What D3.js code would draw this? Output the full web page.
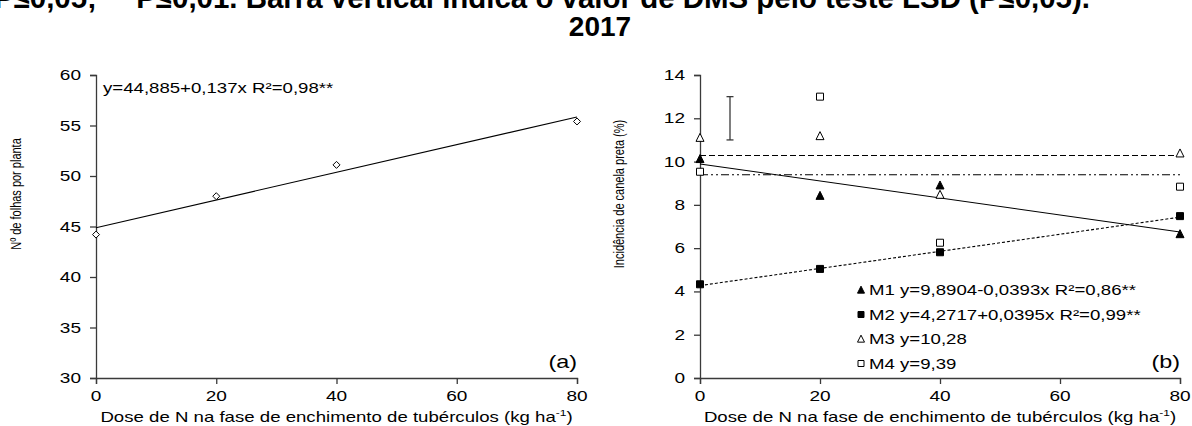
<!DOCTYPE html>
<html><head><meta charset="utf-8">
<script src="https://cdn.jsdelivr.net/npm/d3@7"></script>
<style>html,body{margin:0;padding:0;background:#fff;overflow:hidden}svg{display:block;font-family:"Liberation Sans",Arial,sans-serif}</style>
</head><body>
<script>
// ---------- data ----------
const doses = [0, 20, 40, 80];
const folhas = [44.2, 48.0, 51.1, 55.4];          // panel (a)
const m1 = [10.12, 8.42, 8.90, 6.65];             // filled triangle
const m2 = [4.33, 5.04, 5.81, 7.48];              // filled square
const m3 = [11.10, 11.18, 8.47, 10.38];           // open triangle
const m4 = [9.53, 13.00, 6.25, 8.84];             // open square
const fitA = [44.885, 0.137];
const fitM1 = [9.8904, -0.0393];
const fitM2 = [4.2717, 0.0395];
const meanM3 = 10.28;
const meanM4 = 9.39;
const dmsX = 5, dmsRange = [11, 13];
const xTicks = [0, 20, 40, 60, 80];
const yTicksA = [30, 35, 40, 45, 50, 55, 60];
const yTicksB = [0, 2, 4, 6, 8, 10, 12, 14];
const eqA = "y=44,885+0,137x R²=0,98**";
const legendLabels = ["M1 y=9,8904-0,0393x R²=0,86**", "M2 y=4,2717+0,0395x R²=0,99**", "M3 y=10,28", "M4 y=9,39"];
const titleLine1 = "P≤0,05; ** P≤0,01. Barra vertical indica o valor de DMS pelo teste LSD (P≤0,05).";
const titleLine2 = "2017";
const xTitle = "Dose de N na fase de enchimento de tubérculos (kg ha";
const yTitleA = "Nº de folhas por planta";
const yTitleB = "Incidência de canela preta (%)";

// ---------- setup ----------
const W = 1192, H = 426;
const svg = d3.select("body").append("svg").attr("width", W).attr("height", H);
const AX = "#3a3a3a";
const SX = 1.33;

function txt(g, str, x, y, o = {}) {
  const size = o.size || 14, sx = o.sx || SX, rot = o.rotate || 0;
  const t = g.append("text")
    .attr("transform", `translate(${x},${y}) scale(${sx},1)` + (rot ? ` rotate(${rot})` : ""))
    .attr("font-size", size)
    .attr("font-weight", o.weight || "normal")
    .attr("text-anchor", o.anchor || "start")
    .attr("fill", "#000")
    .text(str);
  if (o.dy) t.attr("dy", o.dy);
  return t;
}

const tri = s => `M0,${-s*0.55}L${s/2},${s*0.45}L${-s/2},${s*0.45}Z`;
const sq = s => `M${-s/2},${-s/2}h${s}v${s}h${-s}Z`;
const dia = s => `M0,${-s/2}L${s/2},0L0,${s/2}L${-s/2},0Z`;

// ---------- titles ----------
svg.append("text").attr("x", -6).attr("y", 8).attr("font-size", 29).attr("font-weight", "bold")
  .attr("textLength", 1096).attr("lengthAdjust", "spacingAndGlyphs").text(titleLine1);
svg.append("text").attr("x", 600).attr("y", 36).attr("font-size", 28).attr("font-weight", "bold")
  .attr("text-anchor", "middle").text(titleLine2);

// ---------- panel builder ----------
function panel(x0, x1, yDom, yTicks, yTitle, yTitleX, tag) {
  const g = svg.append("g");
  const x = d3.scaleLinear().domain([0, 80]).range([x0, x1]);
  const y = d3.scaleLinear().domain(yDom).range([378, 75]);
  const ax = g.append("g").attr("transform", `translate(0,${y(yDom[0])})`)
    .call(d3.axisBottom(x).tickValues(xTicks).tickSize(6).tickFormat(""));
  const ay = g.append("g").attr("transform", `translate(${x0},0)`)
    .call(d3.axisLeft(y).tickValues(yTicks).tickSize(6).tickFormat(""));
  [ax, ay].forEach(a => { a.selectAll("path,line").attr("stroke", AX).attr("stroke-width", 1.3); });
  xTicks.forEach(v => txt(g, String(v), x(v), 401, { anchor: "middle", sx: 1.36 }));
  yTicks.forEach(v => txt(g, String(v), x0 - 15, y(v) + 5, { anchor: "end", sx: 1.36 }));
  const xt = txt(g, xTitle, (x0 + x1) / 2, 422, { anchor: "middle" });
  xt.append("tspan").attr("font-size", 9).attr("dy", -6).text("-1");
  xt.append("tspan").attr("dy", 6).text(")");
  txt(g, yTitle, yTitleX, 194, { anchor: "middle", size: 11, sx: 1.25, rotate: -90 });
  txt(g, tag, x1, 368, { anchor: "end", size: 18, sx: 1.3 });
  return { g, x, y };
}

// ---------- panel (a) ----------
const A = panel(96, 577, [30, 60], yTicksA, yTitleA, 21, "(a)");
A.g.append("line")
  .attr("x1", A.x(0)).attr("y1", A.y(fitA[0]))
  .attr("x2", A.x(80)).attr("y2", A.y(fitA[0] + fitA[1] * 80))
  .attr("stroke", "#000").attr("stroke-width", 1.1);
A.g.selectAll(".pa").data(doses).enter().append("path")
  .attr("d", dia(7)).attr("transform", (d, i) => `translate(${A.x(d)},${A.y(folhas[i])})`)
  .attr("fill", "#fff").attr("stroke", "#000").attr("stroke-width", 1);
txt(A.g, eqA, 103, 93);

// ---------- panel (b) ----------
const B = panel(700, 1180, [0, 14], yTicksB, yTitleB, 624, "(b)");
const lineB = (a, b, dash) => B.g.append("line")
  .attr("x1", B.x(0)).attr("y1", B.y(a)).attr("x2", B.x(80)).attr("y2", B.y(a + b * 80))
  .attr("stroke", "#000").attr("stroke-width", 1.1).attr("stroke-dasharray", dash);
lineB(meanM3, 0, "6,3");
lineB(meanM4, 0, "8,3,2,3,2,3");
lineB(fitM1[0], fitM1[1], null);
lineB(fitM2[0], fitM2[1], "3,2");

B.g.append("line").attr("x1", B.x(dmsX)).attr("x2", B.x(dmsX))
  .attr("y1", B.y(dmsRange[0])).attr("y2", B.y(dmsRange[1])).attr("stroke", AX).attr("stroke-width", 1.3);
dmsRange.forEach(v => B.g.append("line").attr("x1", B.x(dmsX) - 3.5).attr("x2", B.x(dmsX) + 3.5)
  .attr("y1", B.y(v)).attr("y2", B.y(v)).attr("stroke", AX).attr("stroke-width", 1.3));

const series = [
  { vals: m1, shape: tri, fill: "#000" },
  { vals: m2, shape: sq, fill: "#000" },
  { vals: m3, shape: tri, fill: "#fff" },
  { vals: m4, shape: sq, fill: "#fff" }
];
series.forEach(s => {
  B.g.selectAll(null).data(doses).enter().append("path")
    .attr("d", s.shape === tri ? tri(8) : sq(7))
    .attr("transform", (d, i) => `translate(${B.x(d)},${B.y(s.vals[i])})`)
    .attr("fill", s.fill).attr("stroke", "#000").attr("stroke-width", 1);
});

const legBase = [295, 319.5, 344, 368.5];
series.forEach((s, i) => {
  B.g.append("path").attr("d", s.shape === tri ? tri(7) : sq(6))
    .attr("transform", `translate(861,${legBase[i] - 5})`)
    .attr("fill", s.fill).attr("stroke", "#000").attr("stroke-width", 1);
  txt(B.g, legendLabels[i], 869, legBase[i]);
});
</script>
</body></html>
